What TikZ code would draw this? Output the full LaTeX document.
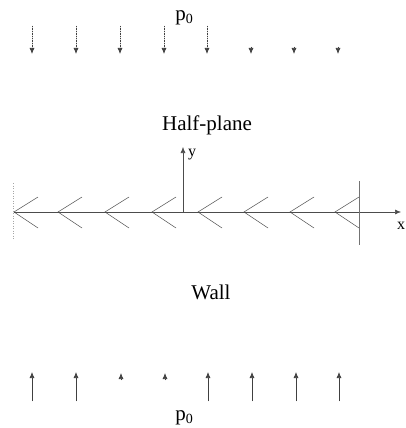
\documentclass[tikz,border=0pt]{standalone}
\usepackage{fontspec}
\setmainfont{Liberation Serif}
\usetikzlibrary{arrows.meta,calc}
\begin{document}
\begin{tikzpicture}[x=1pt,y=-1pt,
  load/.style={line width=0.7pt,draw=black!75,fill=black,-{Latex[length=6pt,width=5pt]}},
  axisline/.style={line width=0.6pt,draw=black!70},
  chev/.style={line width=0.5pt,draw=black!70},
  lbl/.style={inner sep=0pt,font=\fontsize{21}{23}\selectfont},
  small/.style={inner sep=0pt,font=\fontsize{16}{18}\selectfont}]
\useasboundingbox (0,0) rectangle (406,428);
% top label
\node[lbl] (ptop) at (184,18) {p\raisebox{-3pt}{\fontsize{14}{14}\selectfont 0}};
% top loads
\foreach \i/\x in {1/32,2/76,3/120,4/164,5/207}{
  \coordinate (ts\i) at (\x,26); \coordinate (te\i) at (\x,54);
  \draw[load,densely dotted] (ts\i) -- (te\i);}
\foreach \i/\x in {6/251,7/294,8/338}{
  \coordinate (ts\i) at (\x,47); \coordinate (te\i) at (\x,54);
  \draw[load] (ts\i) -- (te\i);}
\node[lbl] (hp) at (207,125) {Half-plane};
% axes
\coordinate (o) at (183,212);
\coordinate (yend) at (183,147);
\coordinate (xs) at (14,212);
\coordinate (xend) at (401,212);
\draw[axisline,-{Latex[length=6pt,width=5pt]}] (o) -- (yend);
\node[small,anchor=west] (ylab) at (188,155) {y};
\draw[axisline,-{Latex[length=6pt,width=5pt]}] (xs) -- (xend);
\node[small] (xlab) at (401,226) {x};
% chevrons
\foreach \i/\x in {1/14,2/58,3/105,4/152,5/198,6/244,7/290,8/335}{
  \coordinate (c\i) at (\x,212);
  \draw[chev] ($(c\i)+(24,-15)$) -- (c\i) -- ($(c\i)+(24,16)$);}
% end marker
\coordinate (ea) at (359,181);
\coordinate (eb) at (359,245);
\draw[chev,draw=black!55] (ea) -- (eb);
\coordinate (la) at (13,183);
\coordinate (lb) at (13,240);
\draw[chev,draw=black!35,dotted] (la) -- (lb);
\node[lbl] (wall) at (211,292) {Wall};
% bottom loads
\foreach \i/\x in {1/32,2/76,5/208,6/252,7/296,8/339}{
  \coordinate (bs\i) at (\x,401); \coordinate (be\i) at (\x,372);
  \draw[load] (bs\i) -- (be\i);}
\foreach \i/\x in {3/121,4/165}{
  \coordinate (bs\i) at (\x,380); \coordinate (be\i) at (\x,373);
  \draw[load] (bs\i) -- (be\i);}
\node[lbl] (pbot) at (184,418) {p\raisebox{-3pt}{\fontsize{14}{14}\selectfont 0}};
\end{tikzpicture}
\end{document}
